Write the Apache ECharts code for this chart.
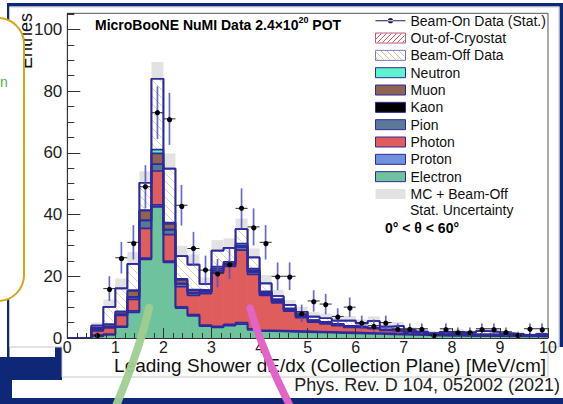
<!DOCTYPE html>
<html>
<head>
<meta charset="utf-8">
<script src="https://cdn.jsdelivr.net/npm/echarts@6/dist/echarts.min.js"></script>
<style>
  html, body { margin: 0; padding: 0; background: #fff; }
  #chart { width: 563px; height: 404px; }
</style>
</head>
<body>
<div id="chart"></div>
<script>
// Binning of the leading-shower dE/dx histogram (MeV/cm)
const binStart = 0;
const binWidth = 0.25;
const nBins = 40;

// Stacked MC + beam-off contributions per bin (entries)
const electron = [0, 0, 0.5, 1.0, 3.5, 8.3, 25.5, 42.5, 24.5, 9.7, 7.2, 3.8, 3.4, 4.0, 4.5, 2.6, 2.2, 2.1, 2.0, 1.9,
                  1.8, 1.7, 1.6, 1.5, 1.4, 1.3, 1.2, 1.1, 1.0, 0.9, 0.8, 0.7, 0.7, 0.6, 0.6, 0.6, 0.5, 0.5, 0.5, 0.4];
const proton   = [0, 0, 0.3, 0.3, 0.3, 0.5, 0.4, 0.6, 0.4, 0.4, 0.4, 0.4, 0.4, 0.4, 0.5, 0.4, 0.3, 0.3, 0.3, 0.3,
                  0.3, 0.3, 0.3, 0.3, 0.3, 0.3, 0.3, 0.3, 0.2, 0.2, 0.2, 0.2, 0.2, 0.2, 0.2, 0.2, 0.2, 0.2, 0.2, 0.2];
const photon   = [0, 0, 1.5, 2.0, 3.5, 3.7, 9.6, 11.0, 8.6, 6.5, 6.2, 10.2, 17.3, 18.8, 23.5, 17.6, 11.3, 9.0, 6.4, 4.4,
                  3.0, 2.6, 2.1, 1.6, 1.6, 1.4, 1.0, 0.9, 0.6, 0.5, 0.3, 0.3, 0.3, 0.2, 0.2, 0.2, 0.2, 0.2, 0.2, 0.2];
const pion     = [0, 0, 0.4, 0.3, 0.4, 0.8, 2.6, 2.2, 1.6, 1.0, 0.8, 0.6, 0.7, 0.6, 0.9, 0.8, 0.5, 0.5, 0.4, 0.4,
                  0.3, 0.3, 0.3, 0.2, 0.2, 0.2, 0.1, 0.1, 0.1, 0.1, 0.1, 0.1, 0.1, 0.1, 0.1, 0.1, 0.1, 0.1, 0.1, 0.1];
const kaon     = [0, 0, 0, 0, 0, 0, 0, 0, 0, 0, 0, 0, 0, 0, 0, 0, 0, 0, 0, 0,
                  0, 0, 0, 0, 0, 0, 0, 0, 0, 0, 0, 0, 0, 0, 0, 0, 0, 0, 0, 0];
const muon     = [0, 0, 0.6, 0.8, 0.8, 2.0, 3.2, 3.5, 1.9, 1.2, 0.8, 0.3, 0.8, 0.5, 0.5, 0.6, 0.5, 0.4, 0.3, 0.3,
                  0.3, 0.2, 0.2, 0.2, 0.1, 0.1, 0.1, 0.1, 0.1, 0, 0, 0, 0, 0, 0, 0, 0, 0, 0, 0];
const neutron  = [0, 0, 0, 0, 0.1, 0.2, 0.1, 1.2, 0.4, 0.4, 0.3, 0.2, 0.5, 0.4, 0.7, 0.5, 0.3, 0.3, 0.2, 0.2,
                  0.1, 0.1, 0.1, 0.1, 0.1, 0.1, 0.1, 0, 0, 0, 0, 0, 0, 0, 0, 0, 0, 0, 0, 0];
const beamOff  = [0, 0, 0.7, 5.7, 7.5, 8.5, 8.9, 23.0, 17.5, 7.3, 8.1, 2.0, 5.2, 4.5, 4.7, 3.6, 2.6, 1.0, 1.1, 1.0,
                  1.1, 1.2, 1.0, 1.7, 1.0, 2.1, 0.9, 1.4, 0.6, 0.4, 0.1, 0.7, 0.7, 0.6, 1.1, 0.9, 0.5, 0.3, 0, 0.4];
const outOfCryo = [0, 0, 0, 0, 0, 0, 0, 0, 0, 0, 0, 0, 0, 0, 0, 0, 0, 0, 0, 0,
                   0, 0, 0, 0, 0, 0, 0, 0, 0, 0, 0, 0, 0, 0, 0, 0, 0, 0, 0, 0];

// Statistical uncertainty (half width) on MC + beam-off per bin
const mcStatUnc = [0, 0, 1.0, 2.4, 3.2, 3.9, 3.7, 5.4, 4.9, 3.4, 3.3, 2.1, 3.4, 3.1, 3.4, 2.9, 2.7, 2.0, 1.6, 1.6,
                   1.5, 1.5, 1.4, 1.5, 1.3, 1.5, 1.2, 1.3, 1.0, 0.9, 0.8, 0.9, 0.9, 0.8, 1.0, 0.9, 0.8, 0.7, 0.6, 0.7];

// Beam-on data counts per bin
const beamOnData = [0, 0, 1, 16, 26, 31, 49, 73, 71, 43, 29, 22, 21, 24, 42, 36, 31, 20, 20, 8,
                    12, 11, 7, 10, 5, 4, 5, 3, 3, 3, 1, 3, 2, 2, 3, 3, 2, 1, 3, 3];

const FONT = '"Liberation Sans", Arial, Helvetica, sans-serif';
const OUTLINE = '#2f2a9c';
const NAVY = '#0f2777';
const BEAMOFF_HATCH = '#d4cda4';
const CRYO_HATCH = '#e05050';

// Stack order, bottom to top
const layers = [
  { name: 'Electron', values: electron, color: '#6fc39c' },
  { name: 'Proton', values: proton, color: '#7090dc' },
  { name: 'Photon', values: photon, color: '#e05d5d' },
  { name: 'Pion', values: pion, color: '#5b7896' },
  { name: 'Kaon', values: kaon, color: '#000000' },
  { name: 'Muon', values: muon, color: '#8e6450' },
  { name: 'Neutron', values: neutron, color: '#5ef2cf' },
  { name: 'Beam-Off Data', values: beamOff, color: '#ffffff', hatch: { color: BEAMOFF_HATCH, dir: 1, step: 8 } },
  { name: 'Out-of-Cryostat', values: outOfCryo, color: '#ffffff', hatch: { color: CRYO_HATCH, dir: -1, step: 5 } }
];

const edges = Array.from({ length: nBins + 1 }, (_, j) => +(binStart + j * binWidth).toFixed(4));
const binNames = edges.slice(0, nBins).map(String);

// cumulative sums for the step outlines
const cumulative = [];
let running = new Array(nBins).fill(0);
layers.forEach(l => {
  running = running.map((r, i) => r + l.values[i]);
  cumulative.push(running.slice());
});
const total = running;

// 45-degree hatch segments clipped to a pixel rectangle.
// dir = 1 draws "\" lines, dir = -1 draws "/" lines; the lattice is anchored to the canvas
// so neighbouring rectangles continue the same pattern.
function hatchSegments(x0, y0, x1, y1, step, dir) {
  const segs = [];
  if (x1 - x0 < 0.5 || y1 - y0 < 0.5) return segs;
  if (dir === 1) {
    for (let k = Math.floor((y0 - x1) / step); k <= Math.ceil((y1 - x0) / step); k++) {
      const c = k * step;
      const xa = Math.max(x0, y0 - c), xb = Math.min(x1, y1 - c);
      if (xb > xa) segs.push([xa, xa + c, xb, xb + c]);
    }
  } else {
    for (let k = Math.floor((x0 + y0) / step); k <= Math.ceil((x1 + y1) / step); k++) {
      const c = k * step;
      const xa = Math.max(x0, c - y1), xb = Math.min(x1, c - y0);
      if (xb > xa) segs.push([xa, c - xa, xb, c - xb]);
    }
  }
  return segs;
}
function hatchLines(segs, color, z) {
  return segs.map(s => ({
    type: 'line', z: z, silent: true,
    shape: { x1: s[0], y1: s[1], x2: s[2], y2: s[3] },
    style: { stroke: color, lineWidth: 1 }
  }));
}

const barSeries = layers.map(l => ({
  type: 'bar',
  name: l.name,
  xAxisIndex: 1,
  yAxisIndex: 0,
  stack: 'mc',
  barWidth: '106%',
  data: l.values,
  itemStyle: { color: l.color, borderWidth: 0 },
  silent: true,
  z: 2
}));

// hatching drawn over the white beam-off / out-of-cryostat bars
const hatchSeries = layers.map((l, k) => ({ l, k })).filter(o => o.l.hatch).map(({ l, k }) => ({
  type: 'custom',
  xAxisIndex: 0,
  yAxisIndex: 0,
  silent: true,
  itemStyle: { color: l.hatch.color },
  data: l.values.map((v, i) => [edges[i], edges[i + 1], k > 0 ? cumulative[k - 1][i] : 0, cumulative[k][i]])
                .filter(d => d[3] - d[2] > 0),
  renderItem: (params, api) => {
    const p0 = api.coord([api.value(0), api.value(3)]);
    const p1 = api.coord([api.value(1), api.value(2)]);
    const segs = hatchSegments(p0[0], p0[1], p1[0], p1[1], l.hatch.step, l.hatch.dir);
    return { type: 'group', children: segs.map(s => ({
      type: 'line', shape: { x1: s[0], y1: s[1], x2: s[2], y2: s[3] },
      style: { stroke: l.hatch.color, fill: null, lineWidth: 0.9 }
    })) };
  },
  z: 3
}));

const outlineSeries = cumulative.map(c => ({
  type: 'line',
  xAxisIndex: 0,
  yAxisIndex: 0,
  step: 'end',
  symbol: 'none',
  silent: true,
  data: edges.map((x, j) => [x, c[Math.min(j, nBins - 1)]]),
  lineStyle: { color: OUTLINE, width: 1.7 },
  z: 4
}));

const uncSeries = {
  type: 'custom',
  name: 'MC + Beam-Off',
  xAxisIndex: 0,
  yAxisIndex: 0,
  silent: true,
  itemStyle: { color: '#e2e2e2' },
  data: total.map((t, i) => [edges[i], edges[i + 1], t, mcStatUnc[i]]).filter(d => d[3] > 0),
  renderItem: (params, api) => {
    const p0 = api.coord([api.value(0), api.value(2) + api.value(3)]);
    const p1 = api.coord([api.value(1), Math.max(api.value(2) - api.value(3), 0)]);
    return { type: 'rect', shape: { x: p0[0], y: p0[1], width: p1[0] - p0[0], height: p1[1] - p0[1] },
             style: { fill: '#e2e2e2' } };
  },
  z: 1
};

const dataSeries = {
  type: 'custom',
  name: 'Beam-On Data (Stat.)',
  xAxisIndex: 0,
  yAxisIndex: 0,
  silent: true,
  itemStyle: { color: '#1c1c5c' },
  data: beamOnData.map((v, i) => [edges[i], edges[i + 1], v]).filter(d => d[2] > 0),
  renderItem: (params, api) => {
    const x0 = api.value(0), x1 = api.value(1), v = api.value(2);
    const xc = (x0 + x1) / 2, e = Math.sqrt(v);
    const top = api.coord([xc, v + e]);
    const bot = api.coord([xc, Math.max(v - e, 0)]);
    const left = api.coord([x0, v]);
    const right = api.coord([x1, v]);
    const c = api.coord([xc, v]);
    return {
      type: 'group',
      children: [
        { type: 'line', shape: { x1: top[0], y1: top[1], x2: bot[0], y2: bot[1] },
          style: { stroke: 'rgba(78,78,200,0.85)', lineWidth: 1.7 } },
        { type: 'line', shape: { x1: left[0], y1: left[1], x2: right[0], y2: right[1] },
          style: { stroke: '#2a2a3a', lineWidth: 1 } },
        { type: 'circle', shape: { cx: c[0], cy: c[1], r: 2.6 }, style: { fill: '#000' } }
      ]
    };
  },
  z: 6
};

// text width helper for the superscript in the header
function textWidth(str, font) {
  const ctx = document.createElement('canvas').getContext('2d');
  ctx.font = font;
  return ctx.measureText(str).width;
}
const headMain = 'MicroBooNE NuMI Data 2.4\u00d710';
const headX = 95, headY = 25;
const wMain = textWidth(headMain, 'bold 14px ' + FONT);
const wSup = textWidth('20', 'bold 9px ' + FONT);

// legend geometry, shared with the hatch overlays on its icons
const LEG_LEFT = 375, LEG_TOP = 12.7, LEG_ROW = 16, LEG_GAP = 1.33, LEG_ICON_W = 30, LEG_ICON_H = 10;
function legendIconBox(row) {
  const cy = LEG_TOP + LEG_ROW / 2 + row * (LEG_ROW + LEG_GAP);
  return [LEG_LEFT + 0.5, cy - LEG_ICON_H / 2 + 0.5, LEG_LEFT + LEG_ICON_W - 0.5, cy + LEG_ICON_H / 2 - 0.5];
}
const legendNames = ['Beam-On Data (Stat.)', 'Out-of-Cryostat', 'Beam-Off Data', 'Neutron', 'Muon', 'Kaon',
                     'Pion', 'Photon', 'Proton', 'Electron', 'MC + Beam-Off'];
const legendHatch = [];
layers.filter(l => l.hatch).forEach(l => {
  const b = legendIconBox(legendNames.indexOf(l.name));
  legendHatch.push(...hatchLines(hatchSegments(b[0], b[1], b[2], b[3], l.hatch.dir === 1 ? 6 : 5, l.hatch.dir),
                                 l.hatch.dir === 1 ? '#cdc59c' : CRYO_HATCH, 40));
});

const chart = echarts.init(document.getElementById('chart'), null, { renderer: 'svg' });

chart.setOption({
  animation: false,
  backgroundColor: '#ffffff',
  textStyle: { fontFamily: FONT },
  grid: {
    left: 67.3, right: 15, top: 13.3, bottom: 66,
    show: true, backgroundColor: '#ffffff', borderColor: '#555', borderWidth: 1
  },
  xAxis: [
    {
      type: 'value', min: 0, max: 10, interval: 1, position: 'bottom', z: 10,
      axisLine: { show: true, onZero: false, lineStyle: { color: '#333', width: 1 } },
      axisTick: { show: true, inside: true, length: 10, lineStyle: { color: '#333' } },
      minorTick: { show: true, splitNumber: 5, length: 5, lineStyle: { color: '#333' } },
      splitLine: { show: false },
      axisLabel: { fontSize: 16, color: '#222', margin: 1, fontFamily: FONT }
    },
    { type: 'category', data: binNames, show: false, boundaryGap: true }
  ],
  yAxis: [
    {
      type: 'value', min: 0, max: 105.2, interval: 20, position: 'left', z: 10,
      axisLine: { show: true, lineStyle: { color: '#333', width: 1 } },
      axisTick: { show: true, inside: true, length: 13, lineStyle: { color: '#333' } },
      splitLine: { show: false },
      axisLabel: { fontSize: 17, color: '#222', margin: 5, showMaxLabel: false, fontFamily: FONT }
    },
    {
      type: 'value', min: 0, max: 105.2, interval: 5, position: 'left', z: 10,
      axisLine: { show: false },
      axisTick: { show: true, inside: true, length: 7, lineStyle: { color: '#333' } },
      splitLine: { show: false },
      axisLabel: { show: false }
    }
  ],
  legend: {
    left: LEG_LEFT, top: LEG_TOP, orient: 'vertical', padding: 0,
    itemWidth: LEG_ICON_W, itemHeight: LEG_ICON_H, itemGap: LEG_GAP, selectedMode: false, icon: 'rect',
    textStyle: { fontSize: 14, color: '#111', fontFamily: FONT, lineHeight: LEG_ROW },
    itemStyle: { borderColor: OUTLINE, borderWidth: 1 },
    data: [
      { name: legendNames[0],
        icon: 'path://M0,4.5L30,4.5L30,5.5L0,5.5Z M12.4,5A2.6,2.6,0,1,0,17.6,5A2.6,2.6,0,1,0,12.4,5Z',
        itemStyle: { borderWidth: 0 } },
      { name: legendNames[1], itemStyle: { borderColor: '#b85a8c' } },
      { name: legendNames[2], itemStyle: { borderColor: '#7a74c0' } },
      { name: legendNames[3] },
      { name: legendNames[4] },
      { name: legendNames[5] },
      { name: legendNames[6] },
      { name: legendNames[7] },
      { name: legendNames[8] },
      { name: legendNames[9] },
      { name: legendNames[10], itemStyle: { borderWidth: 0 } }
    ]
  },
  graphic: {
    elements: [
      // slide frame behind the figure
      { type: 'rect', z: -30, shape: { x: 7, y: 3, width: 556, height: 3.5 }, style: { fill: NAVY } },
      { type: 'rect', z: -30, shape: { x: 7, y: 3, width: 2.5, height: 354 }, style: { fill: NAVY } },
      { type: 'rect', z: -30, shape: { x: 559.5, y: 3, width: 3.5, height: 344 }, style: { fill: NAVY } },
      { type: 'rect', z: -30, shape: { x: 0, y: 357, width: 62, height: 23 }, style: { fill: NAVY } },
      { type: 'rect', z: -30, shape: { x: 55, y: 347, width: 7, height: 10 }, style: { fill: NAVY } },
      { type: 'rect', z: -30, shape: { x: 0, y: 357, width: 12, height: 47 }, style: { fill: NAVY } },
      { type: 'rect', z: -30, shape: { x: 0, y: 398, width: 563, height: 6 }, style: { fill: NAVY } },
      // figure panel
      { type: 'polygon', z: -20,
        shape: { points: [[9.5, 7], [559, 7], [559, 347], [548, 347], [548, 377], [62, 377], [62, 347], [9.5, 347]] },
        style: { fill: '#ffffff', stroke: '#c8c8c8', lineWidth: 1 } },

      // hatch patterns in the legend boxes
      ...legendHatch,

      // header and labels
      { type: 'text', z: 30, x: headX, y: headY,
        style: { text: headMain, font: 'bold 14px ' + FONT, fill: '#000', verticalAlign: 'middle' } },
      { type: 'text', z: 30, x: headX + wMain, y: headY - 5,
        style: { text: '20', font: 'bold 9px ' + FONT, fill: '#000', verticalAlign: 'middle' } },
      { type: 'text', z: 30, x: headX + wMain + wSup, y: headY,
        style: { text: ' POT', font: 'bold 14px ' + FONT, fill: '#000', verticalAlign: 'middle' } },
      { type: 'text', z: 30, x: 410, y: 210,
        style: { text: 'Stat. Uncertainty', font: '14px ' + FONT, fill: '#111', verticalAlign: 'middle' } },
      { type: 'text', z: 30, x: 385, y: 228,
        style: { text: '0\u00b0 < \u03b8 < 60\u00b0', font: 'bold 14px ' + FONT, fill: '#000', verticalAlign: 'middle' } },
      { type: 'text', z: 30, x: 26, y: 13, rotation: Math.PI / 2,
        style: { text: 'Entries', font: '18px ' + FONT, fill: '#111', align: 'right', verticalAlign: 'middle' } },
      { type: 'text', z: 30, x: 546, y: 365,
        style: { text: 'Leading Shower dE/dx (Collection Plane) [MeV/cm]', font: '19px ' + FONT, fill: '#111',
                 align: 'right', verticalAlign: 'middle' } },
      { type: 'text', z: 30, x: 560, y: 385,
        style: { text: 'Phys. Rev. D 104, 052002 (2021)', font: '18px ' + FONT, fill: '#222',
                 align: 'right', verticalAlign: 'middle' } },

      // callout box at the left edge of the slide
      { type: 'rect', z: 50, shape: { x: -40, y: 18, width: 64, height: 283, r: 26 },
        style: { fill: '#ffffff', stroke: '#d4a514', lineWidth: 2 } },
      { type: 'text', z: 51, x: 0, y: 82,
        style: { text: 'n', font: '14px ' + FONT, fill: '#55b055', verticalAlign: 'middle' } },

      // pointer arrows
      { type: 'bezierCurve', z: 60, shape: { x1: 149, y1: 308, cpx1: 141, cpy1: 345, x2: 116, y2: 406 },
        style: { stroke: 'rgba(160,205,145,0.95)', lineWidth: 8, fill: null, lineCap: 'round' } },
      { type: 'bezierCurve', z: 60, shape: { x1: 250, y1: 308, cpx1: 262, cpy1: 350, x2: 290, y2: 406 },
        style: { stroke: '#e264c6', lineWidth: 7.5, fill: null, lineCap: 'round' } }
    ]
  },
  series: [uncSeries, ...barSeries, ...hatchSeries, ...outlineSeries, dataSeries]
});
</script>
</body>
</html>
